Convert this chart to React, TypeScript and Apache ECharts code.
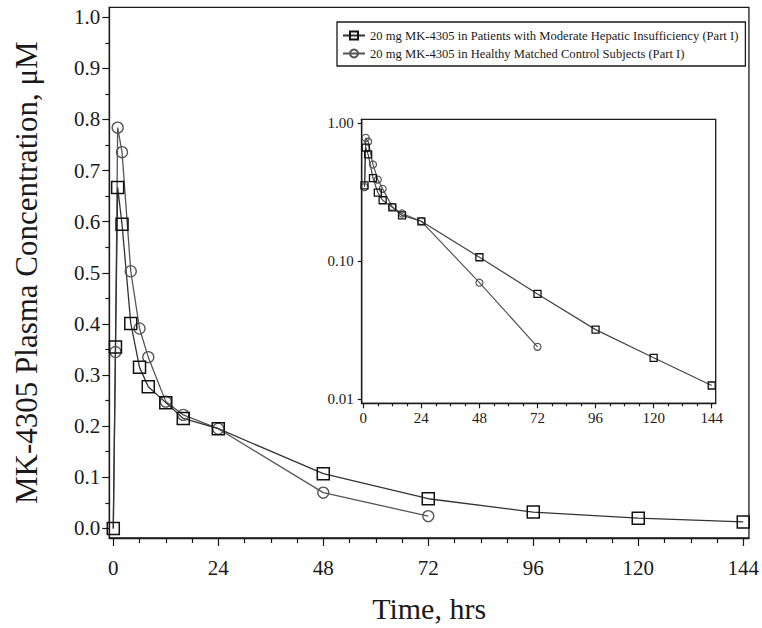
import React, { useEffect, useRef } from "react";
import * as echarts from "echarts";

// ---- data ----
const hepaticTimes = [0, 0.5, 1, 2, 4, 6, 8, 12, 16, 24, 48, 72, 96, 120, 144];
const hepaticConc = [0, 0.355, 0.667, 0.595, 0.401, 0.315, 0.277, 0.246, 0.215, 0.195, 0.107, 0.058, 0.032, 0.02, 0.0126];
const healthyTimes = [0, 0.5, 1, 2, 4, 6, 8, 12, 16, 24, 48, 72];
const healthyConc = [0, 0.345, 0.784, 0.736, 0.503, 0.391, 0.335, 0.248, 0.222, 0.195, 0.07, 0.024];

const hepaticName = "20 mg MK-4305 in Patients with Moderate Hepatic Insufficiency (Part I)";
const healthyName = "20 mg MK-4305 in Healthy Matched Control Subjects (Part I)";

const xMajorTicks = [0, 24, 48, 72, 96, 120, 144];
const xMinorTicks = [6, 12, 18, 30, 36, 42, 54, 60, 66, 78, 84, 90, 102, 108, 114, 126, 132, 138];
const yMajorTicks = [0, 0.1, 0.2, 0.3, 0.4, 0.5, 0.6, 0.7, 0.8, 0.9, 1.0];
const yMinorTicks = [0.05, 0.15, 0.25, 0.35, 0.45, 0.55, 0.65, 0.75, 0.85, 0.95];
const insetYTicks = [0.01, 0.1, 1];

const FONT = "'Liberation Serif', 'Times New Roman', serif";
const INK = "#1a1a1a";

function pairs(t: number[], v: number[], skipZero: boolean) {
  const out: any[] = [];
  t.forEach((x, i) => {
    if (skipZero && v[i] <= 0) return;
    out.push([x, v[i]]);
  });
  return out;
}

export default function App() {
  const ref = useRef<HTMLDivElement>(null);
  useEffect(() => {
    if (!ref.current) return;
    const chart = echarts.init(ref.current, undefined, { renderer: "svg" });

    const xAxisBase = (gridIndex: number, min: number, max: number, fs: number, margin: number, majorLen: number, minorLen: number) => [
      {
        type: "value",
        gridIndex,
        min,
        max,
        axisLine: { show: true, onZero: false, lineStyle: { color: INK, width: 1.3 } },
        axisTick: { show: true, customValues: xMajorTicks, length: majorLen, lineStyle: { color: INK, width: 1.2 } },
        axisLabel: { show: true, customValues: xMajorTicks, margin, color: INK, fontFamily: FONT, fontSize: fs },
        splitLine: { show: false },
      },
      {
        type: "value",
        gridIndex,
        min,
        max,
        position: "bottom",
        axisLine: { show: false, onZero: false },
        axisTick: { show: true, customValues: xMinorTicks, length: minorLen, lineStyle: { color: INK, width: 1.2 } },
        axisLabel: { show: false },
        splitLine: { show: false },
      },
    ];

    const mainX = xAxisBase(0, -0.91, 145.3, 21, 19, 8, 5);
    (mainX[0] as any).name = "Time, hrs";
    (mainX[0] as any).nameLocation = "middle";
    (mainX[0] as any).nameGap = 55;
    (mainX[0] as any).nameTextStyle = { fontFamily: FONT, fontSize: 30, color: INK };
    const insetX = xAxisBase(1, -0.66, 145.65, 15, 7, 5, 3);

    const option: any = {
      animation: false,
      backgroundColor: "#fff",
      grid: [
        { left: 109.3, top: 7.3, right: 11, bottom: 85.3, show: true, borderColor: INK, borderWidth: 1.3, containLabel: false },
        { left: 361.7, top: 119.3, right: 46.3, bottom: 224.7, show: true, borderColor: INK, borderWidth: 1.3, containLabel: false },
      ],
      legend: {
        orient: "vertical",
        left: 337,
        top: 22,
        padding: [7, 7, 6, 5],
        itemGap: 5,
        itemWidth: 22,
        itemHeight: 10,
        backgroundColor: "#fff",
        borderColor: INK,
        borderWidth: 1.3,
        textStyle: { fontFamily: FONT, fontSize: 12.6, color: INK },
        data: [hepaticName, healthyName],
      },
      xAxis: [...mainX, ...insetX],
      yAxis: [
        {
          type: "value",
          gridIndex: 0,
          min: -0.0188,
          max: 1.0194,
          name: "MK-4305 Plasma Concentration, \u03bcM",
          nameLocation: "middle",
          nameGap: 67,
          nameTextStyle: { fontFamily: FONT, fontSize: 31, color: INK },
          axisLine: { show: true, onZero: false, lineStyle: { color: INK, width: 1.3 } },
          axisTick: { show: true, customValues: yMajorTicks, length: 7, lineStyle: { color: INK, width: 1.2 } },
          axisLabel: {
            show: true,
            customValues: yMajorTicks,
            margin: 9,
            color: INK,
            fontFamily: FONT,
            fontSize: 21,
            formatter: (v: number) => v.toFixed(1),
          },
          splitLine: { show: false },
        },
        {
          type: "value",
          gridIndex: 0,
          min: -0.0188,
          max: 1.0194,
          position: "left",
          axisLine: { show: false, onZero: false },
          axisTick: { show: true, customValues: yMinorTicks, length: 4, lineStyle: { color: INK, width: 1.2 } },
          axisLabel: { show: false },
          splitLine: { show: false },
        },
        {
          type: "log",
          gridIndex: 1,
          min: 0.00936,
          max: 1.069,
          logBase: 10,
          axisLine: { show: true, onZero: false, lineStyle: { color: INK, width: 1.3 } },
          axisTick: { show: true, customValues: insetYTicks, length: 4, lineStyle: { color: INK, width: 1.2 } },
          axisLabel: {
            show: true,
            customValues: insetYTicks,
            margin: 8,
            color: INK,
            fontFamily: FONT,
            fontSize: 15,
            formatter: (v: number) => v.toFixed(2),
          },
          splitLine: { show: false },
        },
      ],
      series: [
        {
          name: healthyName,
          type: "line",
          xAxisIndex: 0,
          yAxisIndex: 0,
          data: pairs(healthyTimes, healthyConc, false).map((p, i) => (i === 0 ? { value: p, symbolSize: 0 } : p)),
          symbol: "circle",
          symbolSize: 11,
          clip: false,
          lineStyle: { color: "#555", width: 1.3 },
          itemStyle: { color: "rgba(255,255,255,0)", borderColor: "#555", borderWidth: 1.3 },
        },
        {
          name: hepaticName,
          type: "line",
          xAxisIndex: 0,
          yAxisIndex: 0,
          data: pairs(hepaticTimes, hepaticConc, false),
          symbol: "rect",
          symbolSize: 12,
          clip: false,
          lineStyle: { color: "#333", width: 1.3 },
          itemStyle: { color: "rgba(255,255,255,0)", borderColor: "#111", borderWidth: 1.5 },
        },
        {
          name: healthyName,
          type: "line",
          xAxisIndex: 2,
          yAxisIndex: 2,
          data: pairs(healthyTimes, healthyConc, true),
          symbol: "circle",
          symbolSize: 7,
          clip: false,
          lineStyle: { color: "#555", width: 1.2 },
          itemStyle: { color: "rgba(255,255,255,0)", borderColor: "#555", borderWidth: 1.2 },
        },
        {
          name: hepaticName,
          type: "line",
          xAxisIndex: 2,
          yAxisIndex: 2,
          data: pairs(hepaticTimes, hepaticConc, true),
          symbol: "rect",
          symbolSize: 7,
          clip: false,
          lineStyle: { color: "#444", width: 1.2 },
          itemStyle: { color: "rgba(255,255,255,0)", borderColor: "#111", borderWidth: 1.3 },
        },
      ],
    };
    chart.setOption(option);
    return () => chart.dispose();
  }, []);
  return <div ref={ref} style={{ position: "fixed", left: 0, top: 0, width: 762, height: 628 }} />;
}
